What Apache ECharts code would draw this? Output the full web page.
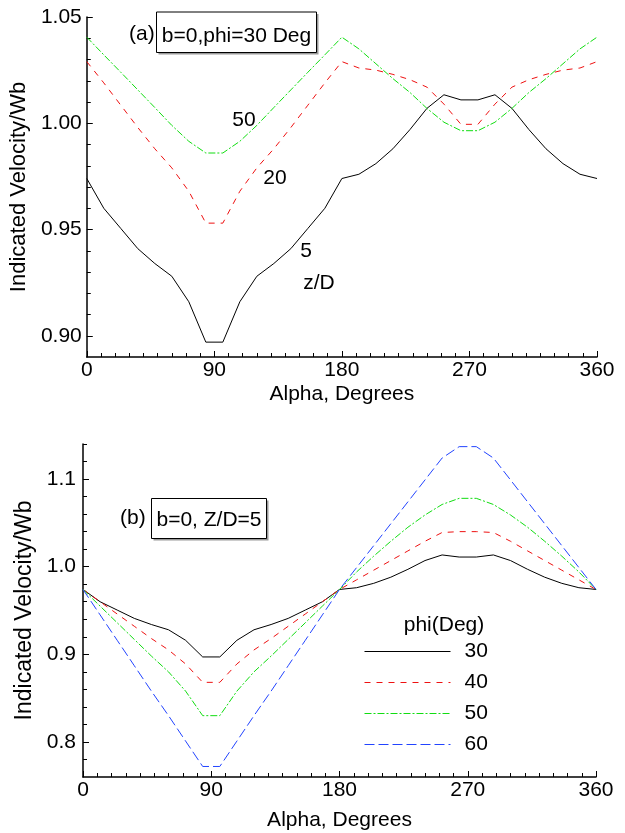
<!DOCTYPE html>
<html>
<head>
<meta charset="utf-8">
<script src="https://cdn.jsdelivr.net/npm/echarts@6/dist/echarts.min.js"></script>
<style>
html,body{margin:0;padding:0;background:#fff;}
#chart{width:625px;height:833px;}
</style>
</head>
<body>
<div id="chart"></div>
<script>
// ---------- data ----------
var angles = [0,12,24,36,48,60,72,84,96,108,120,132,144,156,168,180,192,204,216,228,240,252,264,276,288,300,312,324,336,348,360];

// (a) b=0, phi=30 deg ; z/D = 5, 20, 50
var zd5  = [0.974,0.960,0.9505,0.941,0.934,0.928,0.916,0.897,0.897,0.916,0.928,0.934,0.941,0.9505,0.960,0.974,0.976,0.981,0.988,0.997,1.007,1.0134,1.011,1.011,1.0134,1.007,0.997,0.988,0.981,0.976,0.974];
var zd20 = [1.029,1.019,1.0085,0.998,0.988,0.979,0.968,0.953,0.953,0.968,0.979,0.988,0.998,1.0085,1.019,1.029,1.026,1.025,1.023,1.0205,1.017,1.009,0.9995,0.9995,1.009,1.017,1.0205,1.023,1.025,1.026,1.029];
var zd50 = [1.0405,1.0322,1.024,1.0157,1.0074,0.999,0.9915,0.986,0.986,0.9915,0.999,1.0074,1.0157,1.024,1.0322,1.0405,1.035,1.028,1.021,1.0145,1.007,1.0005,0.9965,0.9965,1.0005,1.007,1.0145,1.021,1.028,1.035,1.0405];

// (b) b=0, Z/D=5 ; phi = 30, 40, 50, 60 deg
var phi30 = zd5.slice();
var phi40 = [0.974,0.960,0.946,0.932,0.918,0.905,0.889,0.868,0.868,0.889,0.905,0.918,0.932,0.946,0.960,0.974,0.985,0.996,1.007,1.018,1.029,1.039,1.040,1.040,1.039,1.029,1.018,1.007,0.996,0.985,0.974];
var phi50 = [0.974,0.955,0.936,0.917,0.898,0.880,0.858,0.830,0.830,0.858,0.880,0.898,0.917,0.936,0.955,0.974,0.994,1.012,1.029,1.045,1.059,1.071,1.078,1.078,1.071,1.059,1.045,1.029,1.012,0.994,0.974];
var phi60 = [0.974,0.945,0.916,0.887,0.858,0.830,0.801,0.772,0.772,0.801,0.830,0.858,0.887,0.916,0.945,0.974,0.999,1.024,1.049,1.074,1.099,1.124,1.137,1.137,1.124,1.099,1.074,1.049,1.024,0.999,0.974];

// tick values
var xTicks = [0,90,180,270,360];
var yTopMajor = [0.90,0.95,1.00,1.05];
var yTopMinor = [0.91,0.92,0.93,0.94,0.96,0.97,0.98,0.99,1.01,1.02,1.03,1.04];
var yBotMajor = [0.8,0.9,1.0,1.1];
var yBotMinor = [0.78,0.82,0.84,0.86,0.88,0.92,0.94,0.96,0.98,1.02,1.04,1.06,1.08,1.12,1.14];
var legendNames = ['30','40','50','60'];

// ---------- chart ----------
var FONT = 'Liberation Sans, Arial, Helvetica, sans-serif';
function pairs(v){ return angles.map(function(a,i){ return [a, v[i]]; }); }

function xAxis(gi){
  return {
    type:'value', gridIndex:gi, min:0, max:360, interval:90,
    axisLine:{show:true, onZero:false, lineStyle:{color:'#000', width:1.5}},
    axisTick:{show:true, inside:true, length:6, lineStyle:{color:'#000', width:1}},
    minorTick:{show:true, splitNumber:9, length:4, lineStyle:{color:'#000', width:1}},
    axisLabel:{color:'#000', fontSize:21, fontFamily:FONT, margin:3},
    splitLine:{show:false},
    name:'Alpha, Degrees', nameLocation:'middle', nameGap:gi===0?27:33,
    nameTextStyle:{color:'#000', fontSize:21, fontFamily:FONT}
  };
}
function yMajor(gi, mn, mx, vals, dec, gap, lm){
  return {
    type:'value', gridIndex:gi, min:mn, max:mx, position:'left',
    axisLine:{show:true, onZero:false, lineStyle:{color:'#000', width:1.5}},
    axisTick:{show:true, inside:true, length:6, customValues:vals, lineStyle:{color:'#000', width:1}},
    axisLabel:{color:'#000', fontSize:21, fontFamily:FONT, margin:lm, customValues:vals,
      formatter:function(v){ return v.toFixed(dec); }},
    splitLine:{show:false},
    name:'Indicated Velocity/Wb', nameLocation:'middle', nameRotate:90, nameGap:gap,
    nameTextStyle:{color:'#000', fontSize:gi===0?22:23, fontFamily:FONT}
  };
}
function yMinor(gi, mn, mx, vals){
  return {
    type:'value', gridIndex:gi, min:mn, max:mx, position:'left',
    axisLine:{show:false},
    axisTick:{show:true, inside:true, length:4, customValues:vals, lineStyle:{color:'#000', width:1}},
    axisLabel:{show:false}, splitLine:{show:false}
  };
}
function line(name, data, xi, yi, color, dash){
  return {
    type:'line', name:name, xAxisIndex:xi, yAxisIndex:yi, data:pairs(data),
    symbol:'none', showSymbol:false, silent:true, z:3,
    lineStyle:{color:color, width:1, type:dash}, itemStyle:{color:color}
  };
}
function boxLabel(tag, tagX, txt, x, y, w, h, ty){
  return [
    {type:'text', left:tagX, top:ty-12, style:{text:tag, fill:'#000', font:'21px '+FONT}},
    {type:'rect', shape:{x:x+2, y:y+2, width:w, height:h}, style:{fill:'#999', stroke:null}, z:10},
    {type:'rect', shape:{x:x, y:y, width:w, height:h}, style:{fill:'#fff', stroke:'#000', lineWidth:1}, z:11},
    {type:'text', x:x+w/2, y:ty, style:{text:txt, fill:'#000', font:'21px '+FONT, align:'center', verticalAlign:'middle'}, z:12}
  ];
}
function txt(s, x, y){
  return {type:'text', x:x, y:y, style:{text:s, fill:'#000', font:'21px '+FONT, align:'center', verticalAlign:'middle'}, z:12};
}

var RED='#ee1111', GREEN='#11dd11', BLUE='#2244ff', BLACK='#000';

var option = {
  animation:false,
  backgroundColor:'#fff',
  grid:[
    {left:85, top:17, width:512, height:340, containLabel:false},
    {left:83, top:444, width:513, height:333, containLabel:false}
  ],
  xAxis:[xAxis(0), xAxis(1)],
  yAxis:[
    yMajor(0, 0.89, 1.05, yTopMajor, 2, 47, 5),
    yMinor(0, 0.89, 1.05, yTopMinor),
    yMajor(1, 0.76, 1.14, yBotMajor, 1, 45, 7),
    yMinor(1, 0.76, 1.14, yBotMinor)
  ],
  legend:{
    data:legendNames, orient:'vertical', left:359, top:636,
    itemWidth:86, itemHeight:22, itemGap:10,
    itemStyle:{opacity:0, borderWidth:0},
    lineStyle:{width:1},
    textStyle:{color:'#000', fontSize:21, fontFamily:FONT, padding:[0,0,0,9]},
    selectedMode:false
  },
  series:[
    line('z/D=5', zd5, 0, 0, BLACK, 'solid'),
    line('z/D=20', zd20, 0, 0, RED, [6,6]),
    line('z/D=50', zd50, 0, 0, GREEN, [7,2,2,2]),
    line('30', phi30, 1, 2, BLACK, 'solid'),
    line('40', phi40, 1, 2, RED, [6,6]),
    line('50', phi50, 1, 2, GREEN, [7,2,2,2]),
    line('60', phi60, 1, 2, BLUE, [10,4])
  ],
  graphic:[].concat(
    boxLabel('(a)', 129, 'b=0,phi=30 Deg', 156.5, 12, 160, 40.5, 36),
    boxLabel('(b)', 120, 'b=0, Z/D=5', 151.5, 498.5, 115, 40, 520),
    [txt('50', 244, 120), txt('20', 275, 178), txt('5', 306, 251), txt('z/D', 319, 283),
     txt('phi(Deg)', 444, 625)]
  )
};

var chart = echarts.init(document.getElementById('chart'), null, {renderer:'canvas'});
chart.setOption(option);
</script>
</body>
</html>
